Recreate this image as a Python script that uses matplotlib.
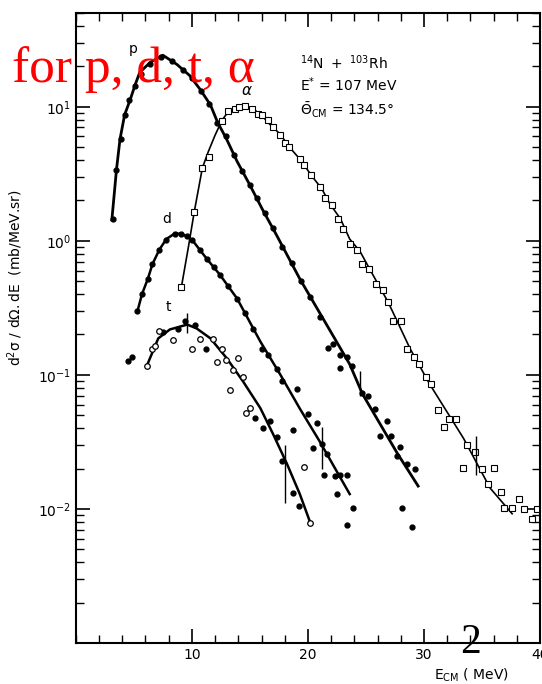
import matplotlib
matplotlib.use("Agg")
import matplotlib.pyplot as plt
from matplotlib.ticker import MultipleLocator, LogLocator, NullFormatter, FixedLocator

# fitted curves (E_cm in MeV, d2sigma/dOmega dE in mb/MeV.sr)
p_curve_E = [3.1, 3.5, 3.8, 4.2, 4.7, 5.1, 5.5, 6.4, 7.5, 8.7, 9.8, 10.7, 11.6, 12.2, 13.0,
             13.9, 15.0, 16.1, 17.3, 19.3, 23.6, 24.7, 27.7, 29.5]
p_curve_y = [1.43, 3.4, 5.7, 8.7, 11.4, 14.5, 18.0, 21.4, 24.2, 20.7, 17.1, 13.5, 10.3, 7.7, 5.7,
             3.9, 2.6, 1.7, 1.1, 0.52, 0.12, 0.072, 0.026, 0.0148]

d_curve_E = [5.3, 5.7, 6.2, 6.6, 7.2, 7.8, 8.5, 9.1, 10.0, 11.3, 12.4, 13.9, 15.9, 17.6, 19.3, 21.0, 23.6]
d_curve_y = [0.297, 0.40, 0.52, 0.67, 0.86, 1.03, 1.13, 1.13, 1.02, 0.73, 0.56, 0.37, 0.177, 0.101,
             0.056, 0.032, 0.0129]

t_curve_E = [6.1, 7.1, 8.1, 9.6, 10.4, 11.6, 13.0, 14.4, 15.9, 17.0, 18.2, 19.3, 20.2]
t_curve_y = [0.116, 0.187, 0.218, 0.237, 0.222, 0.187, 0.133, 0.0895, 0.0564, 0.0361, 0.0216,
             0.0129, 0.0079]

a_curve_E = [9.1, 9.7, 10.2, 10.9, 11.4, 12.0, 12.6, 13.1, 13.9, 14.6, 15.3, 16.0, 16.7, 17.6,
             18.4, 19.3, 20.4, 21.2, 21.9, 22.8, 23.6, 24.5, 25.3, 25.9, 26.9, 27.7, 28.8, 30.5,
             33.4, 35.7, 37.6]
a_curve_y = [0.455, 0.90, 1.64, 3.49, 4.59, 6.14, 7.94, 9.1, 9.58, 9.91, 9.58, 8.65, 7.41, 6.25,
             5.0, 4.07, 2.99, 2.44, 1.88, 1.46, 1.03, 0.83, 0.62, 0.50, 0.35, 0.25, 0.157, 0.085,
             0.0337, 0.0143, 0.0092]

# measured points
p_pts_E = [3.2, 3.5, 3.9, 4.2, 4.6, 5.1, 5.6, 6.4, 7.3, 8.3, 9.2, 10.0, 10.8, 11.5, 12.2, 12.9,
           13.6, 14.3, 15.0, 15.6, 16.3, 17.0, 17.8, 18.6, 19.4, 20.2, 21.0, 21.7, 22.2, 22.8,
           22.8, 23.4, 23.8, 24.7, 25.2, 25.8, 26.2, 26.8, 27.2, 27.7, 27.9, 28.5, 29.2, 28.1, 29.0]
p_pts_y = [1.45, 3.4, 5.7, 8.6, 11.2, 14.2, 17.5, 21.0, 23.5, 22.0, 18.8, 16.5, 13.0, 10.5, 7.6,
           6.0, 4.4, 3.3, 2.6, 2.1, 1.6, 1.25, 0.9, 0.68, 0.5, 0.38, 0.27, 0.158, 0.17, 0.112,
           0.14, 0.137, 0.116, 0.073, 0.069, 0.056, 0.035, 0.045, 0.035, 0.025, 0.029, 0.0216,
           0.0198, 0.0102, 0.0073]

d_pts_E = [5.3, 5.7, 6.2, 6.6, 7.2, 7.8, 8.5, 9.1, 9.6, 10.0, 10.7, 11.3, 11.9, 12.4, 13.1, 13.9,
           14.6, 15.3, 16.0, 16.6, 17.3, 17.8, 19.1, 18.7, 20.0, 20.8, 20.4, 21.2, 21.6, 21.4,
           22.3, 22.8, 23.4, 22.5, 23.9, 23.4]
d_pts_y = [0.30, 0.40, 0.52, 0.67, 0.85, 1.02, 1.12, 1.13, 1.08, 1.02, 0.85, 0.73, 0.64, 0.56,
           0.46, 0.37, 0.29, 0.22, 0.157, 0.14, 0.11, 0.0895, 0.079, 0.039, 0.051, 0.0436,
           0.0284, 0.0304, 0.0256, 0.018, 0.0176, 0.0179, 0.018, 0.0129, 0.0102, 0.0076]

t_open_E = [6.1, 6.6, 6.8, 7.2, 8.4, 10.0, 10.7, 11.8, 12.6, 12.2, 12.9, 14.0, 13.5, 14.4, 13.3,
            15.0, 14.7, 19.7, 20.2]
t_open_y = [0.116, 0.155, 0.163, 0.214, 0.181, 0.155, 0.184, 0.184, 0.157, 0.124, 0.130, 0.133,
            0.108, 0.096, 0.077, 0.057, 0.052, 0.0205, 0.0079]

t_fill_E = [4.5, 4.8, 7.5, 8.8, 9.4, 10.3, 11.2, 15.4, 16.1, 16.7, 17.3, 17.8, 18.7, 19.2]
t_fill_y = [0.126, 0.135, 0.21, 0.218, 0.25, 0.237, 0.157, 0.0475, 0.040, 0.045, 0.0343, 0.0228,
            0.0131, 0.0105]

a_pts_E = [9.1, 10.2, 10.9, 11.5, 12.6, 13.1, 13.7, 14.1, 14.6, 15.2, 15.7, 16.0, 16.6, 17.0,
           17.6, 18.0, 18.4, 19.3, 19.7, 20.3, 21.0, 21.5, 22.1, 22.6, 23.0, 23.6, 24.2, 24.7,
           25.3, 25.9, 26.5, 26.9, 27.3, 28.0, 28.5, 29.1, 29.6, 30.2, 30.6, 31.2, 31.7, 32.2,
           32.8, 33.7, 34.4, 33.4, 35.0, 36.0, 35.5, 36.6, 36.9, 37.6, 38.2, 38.6, 39.3, 39.7]
a_pts_y = [0.455, 1.64, 3.49, 4.2, 7.8, 9.3, 9.6, 9.9, 10.1, 9.6, 8.8, 8.6, 7.9, 7.0, 6.1, 5.4,
           5.0, 4.1, 3.7, 3.1, 2.5, 2.1, 1.85, 1.46, 1.23, 0.95, 0.86, 0.67, 0.62, 0.48, 0.43,
           0.35, 0.25, 0.25, 0.157, 0.135, 0.120, 0.096, 0.085, 0.055, 0.041, 0.047, 0.047,
           0.030, 0.0265, 0.0202, 0.0198, 0.0202, 0.0153, 0.0134, 0.0102, 0.0102, 0.0119,
           0.0100, 0.0084, 0.0100]

# error bars
err_E = [9.6, 18.0, 21.2, 24.5, 34.5]
err_lo = [0.204, 0.011, 0.020, 0.069, 0.018]
err_hi = [0.287, 0.030, 0.041, 0.106, 0.035]

fig = plt.figure(figsize=(5.42, 6.84), dpi=100)
ax = fig.add_axes([0.140, 0.060, 0.8563, 0.921])

ax.plot(p_curve_E, p_curve_y, color="black", lw=2.0)
ax.plot(d_curve_E, d_curve_y, color="black", lw=1.8)
ax.plot(t_curve_E, t_curve_y, color="black", lw=1.8)
ax.plot(a_curve_E, a_curve_y, color="black", lw=1.2)

ax.plot(p_pts_E, p_pts_y, "o", color="black", ms=3.5, ls="none")
ax.plot(d_pts_E, d_pts_y, "o", color="black", ms=3.5, ls="none")
ax.plot(t_fill_E, t_fill_y, "o", color="black", ms=3.5, ls="none")
ax.plot(t_open_E, t_open_y, "o", mfc="white", mec="black", mew=0.9, ms=4, ls="none")
ax.plot(a_pts_E, a_pts_y, "s", mfc="white", mec="black", mew=0.8, ms=4.5, ls="none")

ax.vlines(err_E, err_lo, err_hi, color="black", lw=1.0)

ax.set_yscale("log")
ax.set_xlim(0, 40)
ax.set_ylim(1e-3, 50)

ax.xaxis.set_major_locator(FixedLocator([10, 20, 30, 40]))
ax.xaxis.set_minor_locator(MultipleLocator(2))
ax.yaxis.set_major_locator(FixedLocator([1e-2, 1e-1, 1, 10]))
ax.yaxis.set_minor_locator(LogLocator(base=10, subs=range(2, 10), numticks=20))
ax.yaxis.set_minor_formatter(NullFormatter())

ax.tick_params(which="both", direction="in", top=True, right=True, labelsize=10)
ax.tick_params(which="major", length=10, width=1.2)
ax.tick_params(which="minor", length=6, width=1.0)
for s in ax.spines.values():
    s.set_linewidth(1.5)

ax.set_ylabel(r"$\mathregular{d^2\sigma\ /\ d\Omega.dE}$  (mb/MeV.sr)", fontsize=10, labelpad=8)
ax.yaxis.set_label_coords(-0.11, 0.58)
fig.text(0.87, 0.013, r"$\mathregular{E_{CM}}$ ( MeV)", fontsize=10, ha="center", va="center")

# curve labels
ax.text(4.9, 26.8, "p", fontsize=10, ha="center", va="center")
ax.text(14.7, 13.3, r"$\alpha$", fontsize=11, ha="center", va="center")
ax.text(7.8, 1.46, "d", fontsize=10, ha="center", va="center")
ax.text(8.0, 0.32, "t", fontsize=10, ha="center", va="center")

# reaction info
fig.text(0.553, 0.909, r"$\mathregular{^{14}N\ +\ ^{103}Rh}$", fontsize=10, ha="left", va="center")
fig.text(0.553, 0.876, r"$\mathregular{E^{*}}$ = 107 MeV", fontsize=10, ha="left", va="center")
fig.text(0.553, 0.839, r"$\mathregular{\bar{\Theta}_{CM}}$ = 134.5°", fontsize=10, ha="left", va="center")

# overlay text from the slide
fig.text(0.022, 0.880, "for p, d, t, \u03b1", fontsize=37, color="red",
         family="Liberation Serif", ha="left", va="baseline")
fig.text(0.868, 0.045, "2", fontsize=30, color="black", family="Liberation Serif",
         ha="center", va="baseline")

fig.savefig("out.png", dpi=100)
